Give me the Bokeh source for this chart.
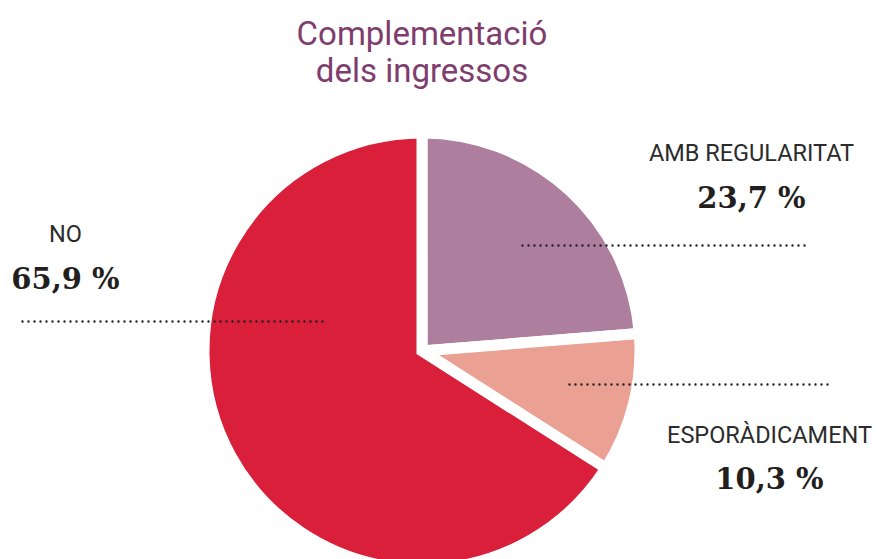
import numpy as np
from bokeh.plotting import figure
from bokeh.models import Range1d
from bokeh.core.properties import value
from bokeh.embed import file_html
from bokeh.resources import INLINE

# ---- data ----
title_lines = ["Complementació", "dels ingressos"]
categories = ["AMB REGULARITAT", "ESPORÀDICAMENT", "NO"]
values = [23.7, 10.3, 65.9]
pct_labels = ["23,7 %", "10,3 %", "65,9 %"]

# ---- styles / layout ----
colors = ["#AD7E9D", "#EAA092", "#D91F3A"]
W, H = 877, 559
PAGE_H = 559

def py(y_page):
    return PAGE_H - y_page

cx, cy = 421.5, py(350.5)
R_VISIBLE = 212.5
GAP = 11

# label anchors (page coords): name center x, name baseline, pct baseline
name_pos = {"AMB REGULARITAT": (751, 152, 197),
            "ESPORÀDICAMENT": (769, 434, 478),
            "NO": (65, 233, 278)}
leaders = {"AMB REGULARITAT": (522, 808, 245),
           "ESPORÀDICAMENT": (569, 831, 384),
           "NO": (22, 325, 321)}

p = figure(width=W, height=H, x_range=Range1d(0, W), y_range=Range1d(py(H), py(0)),
           output_backend="svg", toolbar_location=None, min_border=0,
           x_axis_type=None, y_axis_type=None, outline_line_color=None,
           background_fill_color="white", border_fill_color="white")

frac = np.array(values) / np.sum(values)
cum = np.concatenate([[0.0], np.cumsum(frac)])
start = np.deg2rad(90 - cum[:-1] * 360)
end = np.deg2rad(90 - cum[1:] * 360)

p.wedge(x=[cx] * 3, y=[cy] * 3, radius=R_VISIBLE + GAP / 2,
        start_angle=start, end_angle=end, direction="clock",
        fill_color=colors, line_color="white", line_width=GAP, line_join="miter")

# leader lines (dotted)
for cat in categories:
    x0, x1, yl = leaders[cat]
    p.line(x=[x0, x1], y=[py(yl), py(yl)], line_color="#222222", line_width=2.4,
           line_dash="0 6", line_cap="round")

# labels
p.text(x=[name_pos[c][0] for c in categories], y=[py(name_pos[c][1]) for c in categories],
       text=categories, text_font=value("Roboto"), text_font_size="23.5px",
       text_align="center", text_baseline="alphabetic", text_color="#2b2b2b")
p.text(x=[name_pos[c][0] for c in categories], y=[py(name_pos[c][2]) for c in categories],
       text=pct_labels, text_font=value("DejaVu Serif"), text_font_style="bold",
       text_font_size="29px", text_align="center", text_baseline="alphabetic",
       text_color="#231F20")

# title
p.text(x=[421.5, 421.5], y=[py(33), py(70)], text=title_lines, text_font=value("Roboto"),
       text_font_size="33px", text_align="center", text_baseline="alphabetic",
       text_color="#7E3D6D")

open("out.html", "w").write(file_html(p, INLINE))
